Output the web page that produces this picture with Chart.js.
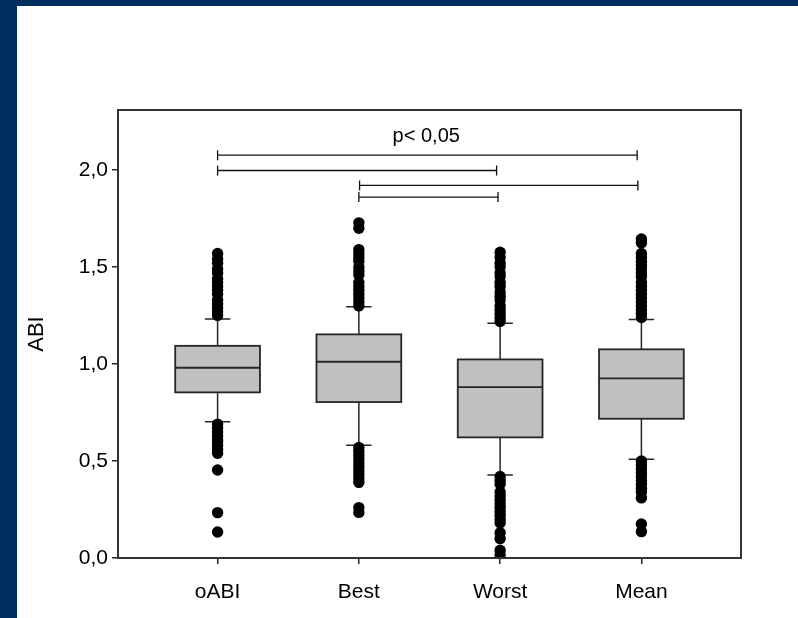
<!DOCTYPE html>
<html>
<head>
<meta charset="utf-8">
<script src="https://cdn.jsdelivr.net/npm/chart.js@4.4.0/dist/chart.umd.min.js"></script>
<style>
  html, body { margin: 0; padding: 0; }
  body { width: 798px; height: 618px; background: #00305f; position: relative; overflow: hidden; }
  #quadro { position: absolute; left: 17px; top: 6px; width: 781px; height: 612px; background: #fff; }
</style>
</head>
<body>
<div id="quadro"><canvas id="grafico" width="781" height="612"></canvas></div>
<script>
// grupos e estatísticas de cada caixa
const grupos = ["oABI", "Best", "Worst", "Mean"];
const bigodeInf = [0.703, 0.582, 0.428, 0.509];
const q1 = [0.854, 0.804, 0.622, 0.718];
const mediana = [0.981, 1.012, 0.881, 0.926];
const q3 = [1.094, 1.153, 1.024, 1.076];
const bigodeSup = [1.232, 1.295, 1.210, 1.230];

// pontos fora dos bigodes
const outOABI = [1.25, 1.27, 1.29, 1.31, 1.33, 1.36, 1.38, 1.40, 1.42, 1.44, 1.47, 1.49, 1.52, 1.54, 1.57,
                 0.69, 0.67, 0.65, 0.63, 0.61, 0.60, 0.58, 0.56, 0.54, 0.454, 0.234, 0.134];
const outBest = [1.728, 1.70, 1.59, 1.57, 1.55, 1.53, 1.50, 1.48, 1.46, 1.42, 1.40, 1.38, 1.36, 1.34, 1.32, 1.30,
                 0.57, 0.55, 0.53, 0.51, 0.49, 0.47, 0.45, 0.43, 0.41, 0.39, 0.26, 0.235];
const outWorst = [1.22, 1.24, 1.26, 1.28, 1.30, 1.33, 1.35, 1.37, 1.40, 1.42, 1.45, 1.47, 1.50, 1.52, 1.55, 1.577,
                  0.42, 0.40, 0.38, 0.34, 0.32, 0.30, 0.28, 0.26, 0.24, 0.22, 0.20, 0.18, 0.13, 0.10, 0.04, 0.015];
const outMean = [1.645, 1.625, 1.57, 1.55, 1.53, 1.51, 1.49, 1.47, 1.45, 1.42, 1.40, 1.38, 1.36, 1.34, 1.32, 1.30, 1.28, 1.26, 1.24,
                 0.50, 0.48, 0.46, 0.44, 0.42, 0.40, 0.38, 0.36, 0.34, 0.31, 0.175, 0.136];
const outliers = [outOABI, outBest, outWorst, outMean];

// comparações significativas (início, fim, altura)
const compInicio = [0, 0, 1.005, 1.0];
const compFim = [2.97, 1.975, 2.975, 1.985];
const compNivel = [2.077, 1.998, 1.921, 1.861];
const textoSig = "p< 0,05";

const ticksY = [0, 0.5, 1.0, 1.5, 2.0];
const ticksX = [0, 1, 2, 3];

const larguraCaixa = 0.6;
const larguraCap = 0.18;
const corLinha = "#262626";

const fonte = "'Liberation Sans', Arial, sans-serif";

const pontos = [];
outliers.forEach((lista, i) => {
    lista.forEach(v => pontos.push({ x: i, y: v }));
});

// desenha caixas, bigodes, colchetes e moldura usando as escalas
const boxplotPlugin = {
    id: "boxplot",
    beforeDatasetsDraw(chart) {
        const ctx = chart.ctx;
        const sx = chart.scales.x;
        const sy = chart.scales.y;

        ctx.save();
        grupos.forEach((g, i) => {
            const xc = sx.getPixelForValue(i);
            const xl = sx.getPixelForValue(i - larguraCaixa / 2);
            const xr = sx.getPixelForValue(i + larguraCaixa / 2);
            const cl = sx.getPixelForValue(i - larguraCap / 2);
            const cr = sx.getPixelForValue(i + larguraCap / 2);
            const yQ1 = sy.getPixelForValue(q1[i]);
            const yQ3 = sy.getPixelForValue(q3[i]);
            const yMed = sy.getPixelForValue(mediana[i]);
            const yLo = sy.getPixelForValue(bigodeInf[i]);
            const yHi = sy.getPixelForValue(bigodeSup[i]);

            ctx.strokeStyle = corLinha;
            ctx.lineWidth = 1.5;
            ctx.beginPath();
            ctx.moveTo(xc, yQ3); ctx.lineTo(xc, yHi);
            ctx.moveTo(xc, yQ1); ctx.lineTo(xc, yLo);
            ctx.moveTo(cl, yHi); ctx.lineTo(cr, yHi);
            ctx.moveTo(cl, yLo); ctx.lineTo(cr, yLo);
            ctx.stroke();

            ctx.fillStyle = "#c0c0c0";
            ctx.fillRect(xl, yQ3, xr - xl, yQ1 - yQ3);
            ctx.lineWidth = 1.8;
            ctx.strokeRect(xl, yQ3, xr - xl, yQ1 - yQ3);
            ctx.beginPath();
            ctx.moveTo(xl, yMed); ctx.lineTo(xr, yMed);
            ctx.stroke();
        });

        // colchetes de significância
        ctx.strokeStyle = "#111";
        ctx.lineWidth = 1.3;
        compNivel.forEach((nivel, k) => {
            const x1 = sx.getPixelForValue(compInicio[k]);
            const x2 = sx.getPixelForValue(compFim[k]);
            const y = sy.getPixelForValue(nivel);
            ctx.beginPath();
            ctx.moveTo(x1, y); ctx.lineTo(x2, y);
            ctx.moveTo(x1, y - 5); ctx.lineTo(x1, y + 5);
            ctx.moveTo(x2, y - 5); ctx.lineTo(x2, y + 5);
            ctx.stroke();
        });

        ctx.fillStyle = "#000";
        ctx.font = "20px " + fonte;
        ctx.textAlign = "center";
        ctx.textBaseline = "middle";
        ctx.fillText(textoSig, sx.getPixelForValue(1.477), sy.getPixelForValue(2.175));
        ctx.restore();
    },
    afterDraw(chart) {
        const { ctx, chartArea: a } = chart;
        ctx.save();
        ctx.strokeStyle = "#333";
        ctx.lineWidth = 2;
        ctx.strokeRect(a.left, a.top, a.right - a.left, a.bottom - a.top);
        ctx.restore();
    }
};

const ctx = document.getElementById("grafico").getContext("2d");

new Chart(ctx, {
    type: "scatter",
    data: {
        datasets: [
            {
                label: "outliers",
                data: pontos,
                pointRadius: 5.7,
                pointHoverRadius: 5.7,
                backgroundColor: "#000",
                borderWidth: 0
            }
        ]
    },
    options: {
        responsive: false,
        animation: false,
        events: [],
        layout: { padding: { left: 0, right: 57, top: 104, bottom: 0 } },
        plugins: {
            legend: { display: false },
            tooltip: { enabled: false }
        },
        scales: {
            x: {
                type: "linear",
                min: -0.705,
                max: 3.705,
                afterBuildTicks: s => { s.ticks = ticksX.map(v => ({ value: v })); },
                afterFit: s => { s.height = 60; },
                ticks: {
                    color: "#000",
                    padding: 16,
                    font: { family: fonte, size: 21 },
                    callback: v => grupos[v]
                },
                grid: { drawOnChartArea: false, drawTicks: true, tickLength: 6, color: corLinha, lineWidth: 1.5 },
                border: { display: true, color: "#333", width: 2 }
            },
            y: {
                min: 0,
                max: 2.31,
                afterBuildTicks: s => { s.ticks = ticksY.map(v => ({ value: v })); },
                afterFit: s => { s.width = 101; },
                ticks: {
                    color: "#000",
                    padding: 4,
                    font: { family: fonte, size: 21 },
                    callback: v => v.toFixed(1).replace(".", ",")
                },
                grid: { drawOnChartArea: false, drawTicks: true, tickLength: 6, color: corLinha, lineWidth: 1.5 },
                border: { display: true, color: "#333", width: 2 },
                title: {
                    display: true,
                    text: "ABI",
                    color: "#000",
                    padding: { top: 7, bottom: 0 },
                    font: { family: fonte, size: 22 }
                }
            }
        }
    },
    plugins: [boxplotPlugin]
});
</script>
</body>
</html>
